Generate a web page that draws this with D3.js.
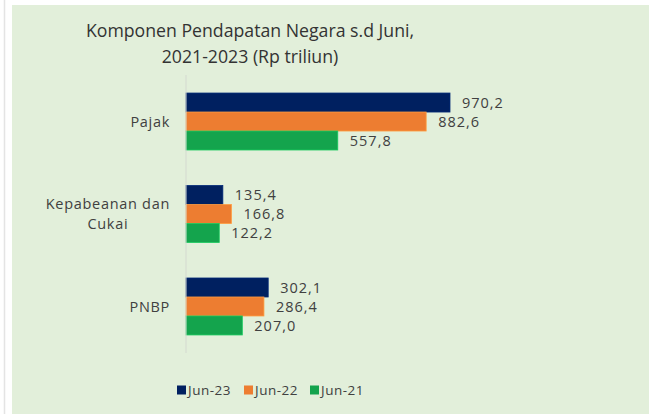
<!DOCTYPE html>
<html lang="id">
<head>
    <meta charset="UTF-8">
    <title>Komponen Pendapatan Negara</title>
    <script src="https://d3js.org/d3.v7.min.js"></script>
    <style>
        body { margin: 0; background: #fff; }
        text { font-family: "Open Sans", "Noto Sans", sans-serif; fill: #404040; }
    </style>
</head>
<body>
    <svg id="chart" width="649" height="414"></svg>
    <script>
        const categories = ["Pajak", "Kepabeanan dan Cukai", "PNBP"];
        const categoryLines = [["Pajak"], ["Kepabeanan dan", "Cukai"], ["PNBP"]];
        const series = ["Jun-23", "Jun-22", "Jun-21"];
        const jun23 = [970.2, 135.4, 302.1];
        const jun22 = [882.6, 166.8, 286.4];
        const jun21 = [557.8, 122.2, 207.0];
        const colors = ["#002060", "#ed7d31", "#14a44d"];
        const titleLines = ["Komponen Pendapatan Negara s.d Juni,", "2021-2023 (Rp triliun)"];

        const values = [jun23, jun22, jun21];
        const data = categories.map((c, i) => ({
            category: c,
            lines: categoryLines[i],
            vals: series.map((s, j) => ({ series: s, value: values[j][i], color: colors[j] }))
        }));

        const svg = d3.select("#chart");

        // frame: white strip on the left, green chart area
        svg.append("line")
            .attr("x1", 4.5).attr("x2", 4.5).attr("y1", 0).attr("y2", 414)
            .attr("stroke", "#e4e4e4").attr("stroke-width", 1.5);
        svg.append("rect")
            .attr("x", 12).attr("y", 5).attr("width", 637).attr("height", 409)
            .attr("fill", "#e2efda");

        // title
        svg.append("g").selectAll("text")
            .data(titleLines)
            .join("text")
            .attr("x", 250)
            .attr("y", (d, i) => 37 + i * 26)
            .attr("text-anchor", "middle")
            .style("font-size", "17.7px")
            .style("fill", "#333")
            .text(d => d);

        const x = d3.scaleLinear()
            .domain([0, 1200])
            .range([186, 186 + 1200 * 0.2721]);

        const y = d3.scaleBand()
            .domain(categories)
            .range([75, 353])
            .paddingInner(0.384)
            .paddingOuter(0.195);

        const ySub = d3.scaleBand()
            .domain(series)
            .range([0, y.bandwidth()]);

        const groups = svg.append("g").selectAll("g")
            .data(data)
            .join("g")
            .attr("transform", d => `translate(0,${y(d.category)})`);

        groups.selectAll("rect")
            .data(d => d.vals)
            .join("rect")
            .attr("x", x(0))
            .attr("y", d => ySub(d.series))
            .attr("width", d => x(d.value) - x(0))
            .attr("height", ySub.bandwidth())
            .attr("fill", d => d.color)
            .attr("stroke", d => d3.color(d.color).brighter(0.6))
            .attr("stroke-width", 0.8);

        groups.selectAll("text.val")
            .data(d => d.vals)
            .join("text")
            .attr("class", "val")
            .attr("x", d => x(d.value) + 12)
            .attr("y", d => ySub(d.series) + ySub.bandwidth() / 2)
            .attr("dy", "0.35em")
            .style("font-size", "14.5px")
            .style("letter-spacing", "1px")
            .text(d => d.value.toFixed(1).replace(".", ","));

        // axis line
        svg.append("line")
            .attr("x1", x(0)).attr("x2", x(0))
            .attr("y1", y.range()[0]).attr("y2", y.range()[1])
            .attr("stroke", "#d4d9d0").attr("stroke-width", 1);

        // category labels, lines centred on the widest line, block right-aligned
        groups.each(function (d) {
            const g = d3.select(this);
            const lh = 20;
            const cy = y.bandwidth() / 2 - (d.lines.length - 1) * lh / 2;
            const texts = g.selectAll("text.cat")
                .data(d.lines)
                .join("text")
                .attr("class", "cat")
                .attr("y", (l, i) => cy + i * lh)
                .attr("dy", "0.35em")
                .style("font-size", "14.5px")
                .style("letter-spacing", "0.7px")
                .text(l => l);
            const widths = texts.nodes().map(n => n.getComputedTextLength());
            const maxW = d3.max(widths);
            const center = 170 - maxW / 2;
            texts.attr("x", center).attr("text-anchor", "middle");
        });

        // legend
        const legendX = [177, 244, 310];
        const legend = svg.append("g").selectAll("g")
            .data(series)
            .join("g")
            .attr("transform", (d, i) => `translate(${legendX[i]},390)`);
        legend.append("rect")
            .attr("x", 0).attr("y", -4.5)
            .attr("width", 9).attr("height", 9)
            .attr("fill", (d, i) => colors[i]);
        legend.append("text")
            .attr("x", 11)
            .attr("dy", "0.35em")
            .style("font-size", "13.5px")
            .style("letter-spacing", "0.5px")
            .text(d => d);
    </script>
</body>
</html>
